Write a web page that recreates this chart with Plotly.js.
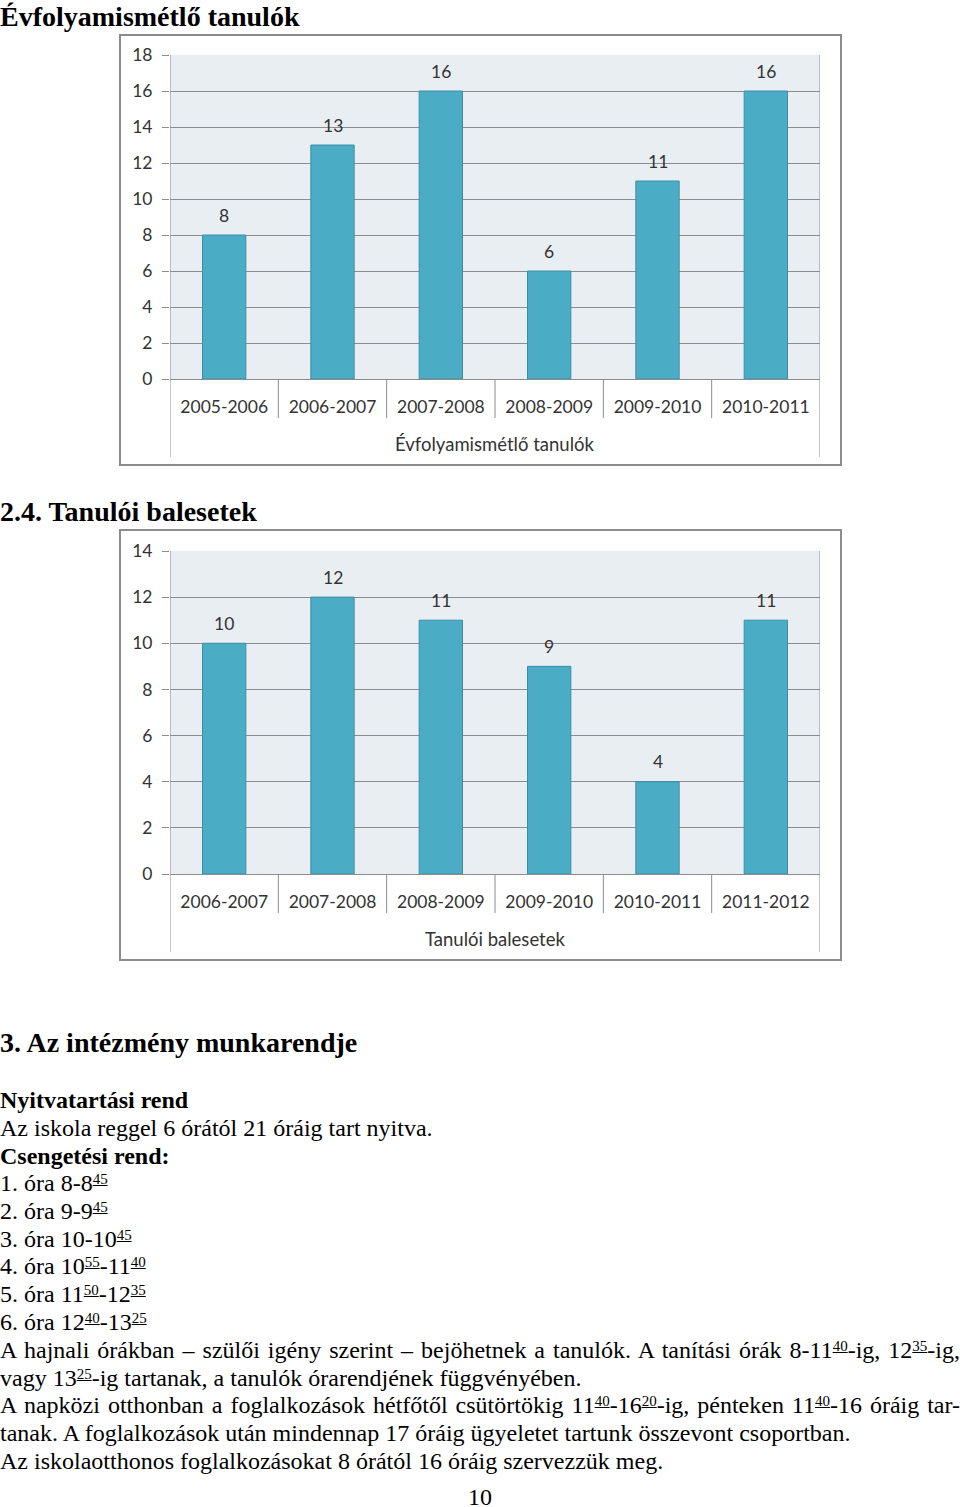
<!DOCTYPE html>
<html><head><meta charset="utf-8">
<script src="https://cdn.plot.ly/plotly-3.0.1.min.js"></script>
<style>
body{margin:0;background:#fff;width:960px;height:1507px;position:relative;overflow:hidden;font-family:"Liberation Serif","Times New Roman",serif;color:#000;}
.ln{position:absolute;left:0;white-space:nowrap;font-size:24px;line-height:28px;height:28px;}
.j{width:960px;text-align:justify;text-align-last:justify;}
.h{font-weight:bold;font-size:28px;line-height:30px;height:30px;}
.b{font-weight:bold;}
.wrap{position:absolute;left:119px;width:723px;height:432px;}
.plot{position:absolute;left:0;top:0;width:723px;height:432px;}
.frame{position:absolute;left:0;top:0;width:723px;height:432px;box-sizing:border-box;border:2px solid #8c8c8c;pointer-events:none;}
sup{font-size:15px;text-decoration:underline;vertical-align:0.5em;line-height:0;}
</style></head>
<body>
<div class="ln h" style="top:2px">Évfolyamismétlő tanulók</div>
<div class="wrap" style="top:34px"><div id="c1" class="plot"></div><div class="frame"></div></div>
<div class="ln h" style="top:497px">2.4. Tanulói balesetek</div>
<div class="wrap" style="top:529px"><div id="c2" class="plot"></div><div class="frame"></div></div>
<div class="ln h" style="top:1028px">3. Az intézmény munkarendje</div>
<div class="ln b" style="top:1086px">Nyitvatartási rend</div>
<div class="ln" style="top:1114px">Az iskola reggel 6 órától 21 óráig tart nyitva.</div>
<div class="ln b" style="top:1142px">Csengetési rend:</div>
<div class="ln" style="top:1169px">1. óra 8-8<sup>45</sup></div>
<div class="ln" style="top:1197px">2. óra 9-9<sup>45</sup></div>
<div class="ln" style="top:1225px">3. óra 10-10<sup>45</sup></div>
<div class="ln" style="top:1252px">4. óra 10<sup>55</sup>-11<sup>40</sup></div>
<div class="ln" style="top:1280px">5. óra 11<sup>50</sup>-12<sup>35</sup></div>
<div class="ln" style="top:1308px">6. óra 12<sup>40</sup>-13<sup>25</sup></div>
<div class="ln j" style="top:1336px">A hajnali órákban – szülői igény szerint – bejöhetnek a tanulók. A tanítási órák 8-11<sup>40</sup>-ig, 12<sup>35</sup>-ig,</div>
<div class="ln" style="top:1364px">vagy 13<sup>25</sup>-ig tartanak, a tanulók órarendjének függvényében.</div>
<div class="ln j" style="top:1391px">A napközi otthonban a foglalkozások hétfőtől csütörtökig 11<sup>40</sup>-16<sup>20</sup>-ig, pénteken 11<sup>40</sup>-16 óráig tar-</div>
<div class="ln" style="top:1419px">tanak. A foglalkozások után mindennap 17 óráig ügyeletet tartunk összevont csoportban.</div>
<div class="ln" style="top:1447px">Az iskolaotthonos foglalkozásokat 8 órától 16 óráig szervezzük meg.</div>
<div class="ln" style="top:1483px;width:960px;text-align:center">10</div>
<script>
// Chart 1: Évfolyamismétlő tanulók
var years1 = ["2005-2006","2006-2007","2007-2008","2008-2009","2009-2010","2010-2011"];
var values1 = [8, 13, 16, 6, 11, 16];
var axisTitle1 = "Évfolyamismétlő tanulók";
var yMax1 = 18;

// Chart 2: Tanulói balesetek
var years2 = ["2006-2007","2007-2008","2008-2009","2009-2010","2010-2011","2011-2012"];
var values2 = [10, 12, 11, 9, 4, 11];
var axisTitle2 = "Tanulói balesetek";
var yMax2 = 14;

var GRID = "#8c8c8c";
var FONT = {family: "Lato, 'Open Sans', sans-serif", size: 17.5, color: "#333333"};
var TFONT = {family: "Lato, 'Open Sans', sans-serif", size: 18.5, color: "#333333"};

function makeChart(id, cats, vals, title, yMax, mt, plotH) {
  var trace = {
    type: "bar", x: cats, y: vals,
    marker: {color: "#4bacc6", line: {color: "#3a8fa6", width: 1}},
    width: 0.4, hoverinfo: "none"
  };
  var shapes = [];
  var inner = -39 / plotH, outer = -78 / plotH;
  for (var i = 0; i <= cats.length; i++) {
    var edge = (i === 0 || i === cats.length);
    shapes.push({type: "line", xref: "x", yref: "paper",
      x0: i - 0.5, x1: i - 0.5, y0: edge ? 1 : 0, y1: edge ? outer : inner,
      line: {color: GRID, width: 1}});
  }
  var ann = cats.map(function (c, k) {
    return {x: c, y: vals[k], xref: "x", yref: "y", text: String(vals[k]),
      showarrow: false, yanchor: "middle", yshift: 20, font: FONT};
  });
  ann.push({xref: "paper", yref: "paper", x: 0.5, y: 0, yshift: -65,
    yanchor: "middle", showarrow: false, text: title, font: TFONT});
  var layout = {
    width: 723, height: 432,
    margin: {l: 51, r: 22, t: mt, b: 432 - mt - plotH, pad: 0},
    paper_bgcolor: "rgba(0,0,0,0)", plot_bgcolor: "#e9eef3",
    showlegend: false, bargap: 0.6,
    xaxis: {type: "category", range: [-0.5, cats.length - 0.5], showgrid: false,
      showline: true, linecolor: GRID, linewidth: 1, ticks: "", tickfont: FONT,
      ticklabelstandoff: 12, fixedrange: true},
    yaxis: {range: [0, yMax], dtick: 2, tick0: 0, showgrid: true, gridcolor: GRID,
      gridwidth: 1, zeroline: false, showline: false, ticks: "outside", ticklen: 7,
      tickcolor: GRID, tickwidth: 1, tickfont: FONT, ticklabelstandoff: 6, fixedrange: true},
    shapes: shapes, annotations: ann
  };
  Plotly.newPlot(id, [trace], layout, {staticPlot: true, displayModeBar: false});
}
makeChart("c1", years1, values1, axisTitle1, yMax1, 21, 324);
makeChart("c2", years2, values2, axisTitle2, yMax2, 22, 323);
</script>
</body></html>
